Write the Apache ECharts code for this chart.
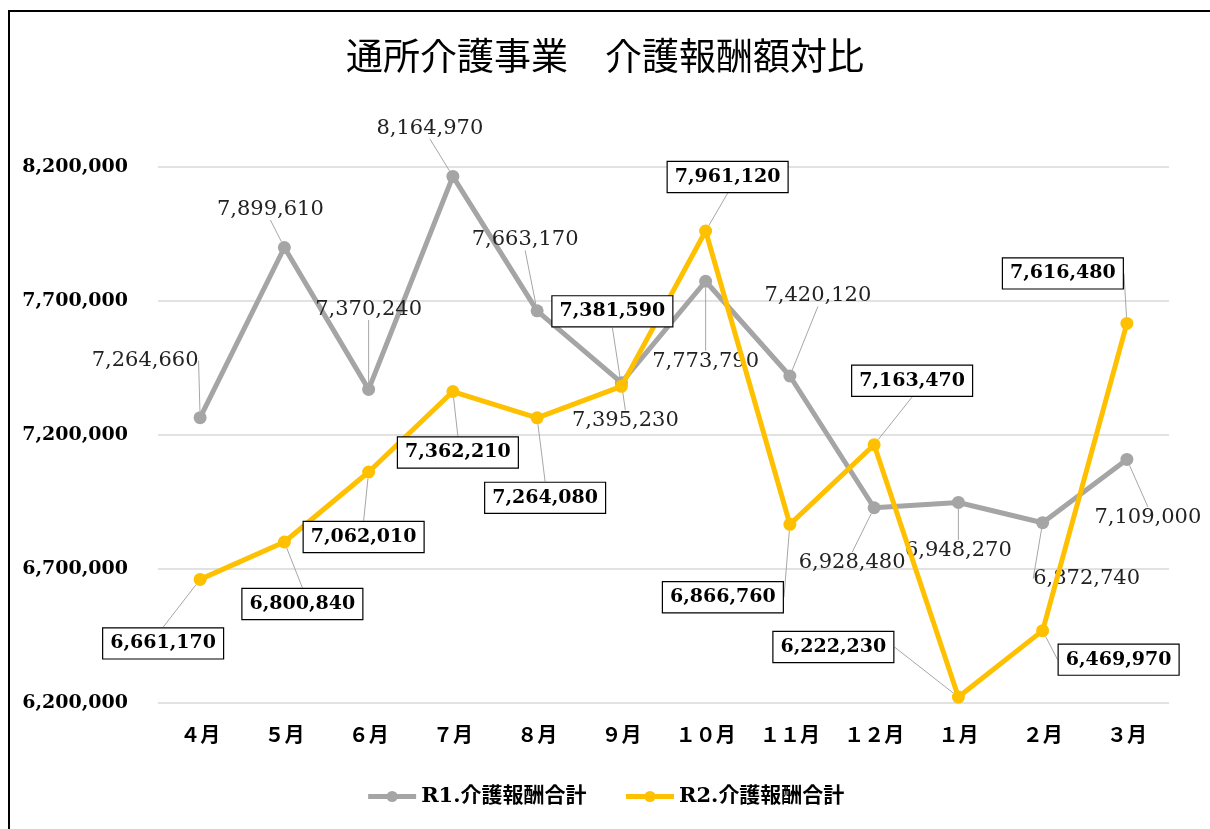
<!DOCTYPE html>
<html>
<head>
<meta charset="utf-8">
<script src="https://cdn.jsdelivr.net/npm/echarts@6/dist/echarts.min.js"></script>
<style>
html,body{margin:0;padding:0;background:#fff;overflow:hidden;}
#frame{position:absolute;left:8px;top:10px;width:1400px;height:1000px;border-left:2px solid #000;border-top:2px solid #000;pointer-events:none;z-index:2;}
#main{position:absolute;left:0;top:0;width:1210px;height:829px;}
</style>
</head>
<body>
<div id="main"></div>
<div id="frame"></div>
<script>
const categories = ['４月','５月','６月','７月','８月','９月','１０月','１１月','１２月','１月','２月','３月'];
const r1Values = [7264660, 7899610, 7370240, 8164970, 7663170, 7395230, 7773790, 7420120, 6928480, 6948270, 6872740, 7109000];
const r2Values = [6661170, 6800840, 7062010, 7362210, 7264080, 7381590, 7961120, 6866760, 7163470, 6222230, 6469970, 7616480];
const seriesNames = ['R1.介護報酬合計', 'R2.介護報酬合計'];
const yTicks = [6200000, 6700000, 7200000, 7700000, 8200000];

// label displacement (layout only)
const r1LabelOffsets = [[-55,-57],[-14,-38],[0,-80],[-23,-48],[-12,-71],[4,38],[0,80],[28,-80],[-22,55],[0,48],[44,56],[21,58]];
const r2LabelOffsets = [[-37,64],[18,62],[-5,65],[5,61],[8,80],[-9,-75],[22,-54],[-67,73],[38,-64],[-125,-50],[76,29],[-64,-50]];

const fmt = v => v.toString().replace(/\B(?=(\d{3})+(?!\d))/g, ',');
const serif = 'DejaVu Serif';
const cjk = 'Noto Sans CJK JP';

const chart = echarts.init(document.getElementById('main'));
chart.setOption({
  animation: false,
  title: {
    text: '通所介護事業　介護報酬額対比',
    left: 'center', top: 32,
    textStyle: { fontFamily: cjk, fontSize: 37, fontWeight: 'normal', color: '#000' }
  },
  legend: {
    bottom: 17, left: 'center',
    itemWidth: 48, itemHeight: 14, itemGap: 37,
    lineStyle: { width: 5 },
    textStyle: { fontFamily: serif + ',' + cjk, fontSize: 21, fontWeight: 'bold', color: '#000' },
    data: seriesNames
  },
  grid: { left: 158, right: 41, top: 167, bottom: 126, containLabel: false },
  xAxis: {
    type: 'category', data: categories, boundaryGap: true,
    axisLine: { show: false }, axisTick: { show: false },
    axisLabel: { margin: 21, fontFamily: cjk, fontSize: 20, fontWeight: 'bold', color: '#000' }
  },
  yAxis: {
    type: 'value', min: yTicks[0], max: yTicks[yTicks.length - 1], interval: yTicks[1] - yTicks[0],
    axisLine: { show: false }, axisTick: { show: false },
    splitLine: { lineStyle: { color: '#d9d9d9', width: 1.5 } },
    axisLabel: { margin: 30, fontFamily: serif, fontSize: 19, fontWeight: 'bold', color: '#000', formatter: v => fmt(v) }
  },
  series: [
    {
      name: seriesNames[0], type: 'line', data: r1Values,
      symbol: 'circle', symbolSize: 13,
      itemStyle: { color: '#a5a5a5' },
      lineStyle: { color: '#a5a5a5', width: 5 },
      z: 2,
      label: {
        show: true, position: 'inside',
        fontFamily: serif, fontSize: 21, color: '#222',
        formatter: p => fmt(p.value)
      },
      labelLine: { show: true, lineStyle: { color: '#a6a6a6', width: 1 } },
      labelLayout: p => ({ dx: r1LabelOffsets[p.dataIndex][0], dy: r1LabelOffsets[p.dataIndex][1] })
    },
    {
      name: seriesNames[1], type: 'line', data: r2Values,
      symbol: 'circle', symbolSize: 13,
      itemStyle: { color: '#ffc000' },
      lineStyle: { color: '#ffc000', width: 5 },
      z: 3,
      label: {
        show: true, position: 'inside',
        fontFamily: serif, fontSize: 19, fontWeight: 'bold', color: '#000',
        backgroundColor: '#fff', borderColor: '#000', borderWidth: 1.2,
        padding: [6, 7, 5, 7],
        formatter: p => fmt(p.value)
      },
      labelLine: { show: true, lineStyle: { color: '#a6a6a6', width: 1 } },
      labelLayout: p => ({ dx: r2LabelOffsets[p.dataIndex][0], dy: r2LabelOffsets[p.dataIndex][1] })
    }
  ]
});
</script>
</body>
</html>
